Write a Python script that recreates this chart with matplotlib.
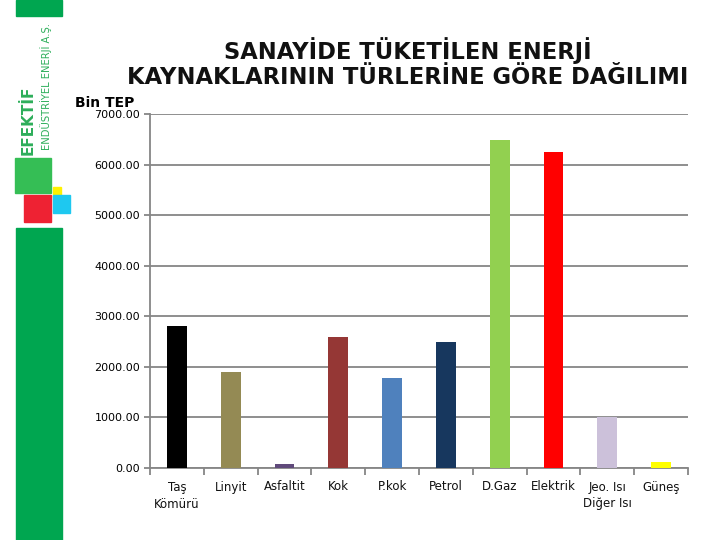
import matplotlib
matplotlib.use("Agg")
import matplotlib.pyplot as plt
from matplotlib.patches import Rectangle

# Veri (Bin TEP)
kategoriler = ["Taş\nKömürü", "Linyit", "Asfaltit", "Kok", "P.kok", "Petrol",
               "D.Gaz", "Elektrik", "Jeo. Isı\nDiğer Isı", "Güneş"]
degerler = [2800, 1900, 70, 2600, 1770, 2500, 6480, 6250, 1000, 110]
renkler = ["#000000", "#948A54", "#604A7B", "#953735", "#4F81BD", "#17375E",
           "#92D050", "#FF0000", "#CCC1DA", "#FFFF00"]
yticks = [0, 1000, 2000, 3000, 4000, 5000, 6000, 7000]

W, H = 720, 540
fig = plt.figure(figsize=(7.2, 5.4), dpi=100)

# logo / arka plan katmanı (piksel koordinatları)
bg = fig.add_axes([0, 0, 1, 1])
bg.set_xlim(0, W)
bg.set_ylim(H, 0)
bg.axis("off")
yesil = "#00A650"
bg.add_patch(Rectangle((16, 0), 46, 16, color=yesil))
bg.add_patch(Rectangle((16, 228), 46, 312, color=yesil))
bg.add_patch(Rectangle((15, 158), 36, 35, color="#35BE55"))
bg.add_patch(Rectangle((53, 187), 8, 10, color="#FFF200"))
bg.add_patch(Rectangle((24, 195), 27, 27, color="#EE2233"))
bg.add_patch(Rectangle((53, 195), 17, 18, color="#1EC8F0"))
bg.text(28, 155, "EFEKTİF", rotation=90, color="#2DAE5A", fontsize=11,
        fontweight="bold", ha="center", va="bottom")
bg.text(46, 150, "ENDÜSTRİYEL ENERJİ A.Ş.", rotation=90, color="#2DAE5A",
        fontsize=7.2, ha="center", va="bottom")

# başlık
bg.text(408, 63, "SANAYİDE TÜKETİLEN ENERJİ\nKAYNAKLARININ TÜRLERİNE GÖRE DAĞILIMI",
        ha="center", va="center", fontsize=16.3, fontweight="bold",
        linespacing=1.15, color="#111111")
bg.text(75, 103, "Bin TEP", ha="left", va="center", fontsize=10,
        fontweight="bold")

# grafik
ax = fig.add_axes([150 / W, (H - 468) / H, 538 / W, (468 - 114) / H])
x = list(range(len(kategoriler)))
ax.bar(x, degerler, width=0.37, color=renkler, zorder=3)
ax.set_xlim(-0.5, len(kategoriler) - 0.5)
ax.set_ylim(0, 7000)
ax.set_yticks(yticks)
ax.set_yticklabels([f"{v:.2f}" for v in yticks], fontsize=8)
ax.yaxis.grid(True, color="#868686", linewidth=1.3, zorder=0)
ax.set_xticks([i + 0.5 for i in range(-1, len(kategoriler))])
ax.set_xticklabels([])
ax.set_xticks(x, minor=True)
ax.set_xticklabels(kategoriler, minor=True, fontsize=8.5, color="#111111",
                   linespacing=1.4)
ax.tick_params(axis="x", which="minor", length=0, pad=9)
ax.tick_params(axis="x", which="major", length=5, color="#868686", width=1.3)
ax.tick_params(axis="y", length=4, color="#868686", width=1.3, pad=3)
for s in ["top", "right"]:
    ax.spines[s].set_visible(False)
for s in ["left", "bottom"]:
    ax.spines[s].set_color("#868686")
    ax.spines[s].set_linewidth(1.3)

fig.savefig("out.png", dpi=100)
